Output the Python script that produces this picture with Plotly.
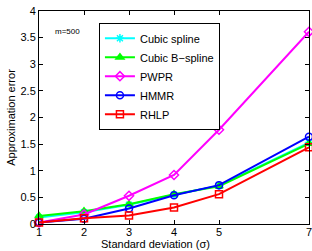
import plotly.graph_objects as go

sigma = [1, 2, 3, 4, 5, 7]
cubic_spline = [0.12, 0.22, 0.36, 0.55, 0.72, 1.53]
cubic_bspline = [0.15, 0.24, 0.37, 0.56, 0.71, 1.51]
pwpr = [0.03, 0.18, 0.53, 0.92, 1.77, 3.61]
hmmr = [0.03, 0.10, 0.29, 0.54, 0.73, 1.64]
rhlp = [0.03, 0.11, 0.16, 0.31, 0.56, 1.44]

series = [
    ("Cubic spline", cubic_spline, "#00FFFF", "asterisk-open"),
    ("Cubic B\u2212spline", cubic_bspline, "#00FF00", "triangle-up"),
    ("PWPR", pwpr, "#FF00FF", "diamond-open"),
    ("HMMR", hmmr, "#0000FF", "circle-open"),
    ("RHLP", rhlp, "#FF0000", "square-open"),
]

fig = go.Figure()
for name, vals, col, sym in series:
    fig.add_trace(go.Scatter(
        x=sigma, y=vals, name=name, mode="lines+markers",
        line=dict(color=col, width=2),
        marker=dict(symbol=sym, size=7, color=col, line=dict(color=col, width=1.5)),
        cliponaxis=False,
    ))

font = dict(family="Liberation Sans, Arial, sans-serif", size=11, color="black")
fig.update_layout(
    width=312, height=251,
    margin=dict(l=39, r=3, t=11, b=27),
    paper_bgcolor="white", plot_bgcolor="white",
    font=font,
    showlegend=True,
    legend=dict(x=0.222, y=0.945, xanchor="left", yanchor="top",
                bordercolor="black", borderwidth=1, bgcolor="white",
                font=dict(size=11), tracegroupgap=0, itemwidth=30),
    annotations=[
        dict(text="m=500", x=0.05, y=0.905, xref="paper", yref="paper",
             showarrow=False, xanchor="left", yanchor="middle", font=dict(size=8)),
        dict(text="Standard deviation (\u03c3)", x=0.43, y=0, xref="paper", yref="paper",
             yshift=-20, showarrow=False, xanchor="center", yanchor="middle"),
    ],
)
fig.update_xaxes(range=[1, 7], tickvals=[1, 2, 3, 4, 5, 7], showgrid=False, zeroline=False,
                 showline=True, linecolor="black", linewidth=1, mirror="ticks",
                 ticks="inside", ticklen=4, tickcolor="black", automargin=False,
                 ticklabelstandoff=-2, ticklabeloverflow="allow")
fig.update_yaxes(range=[0, 4], dtick=0.5, showgrid=False, zeroline=False,
                 showline=True, linecolor="black", linewidth=1, mirror="ticks",
                 ticks="inside", ticklen=4, tickcolor="black", automargin=False,
                 ticklabeloverflow="allow",
                 title=dict(text="Approximation error", standoff=2, font=dict(size=11)))

fig.write_html("out.html", config={"displayModeBar": False},
               post_script="document.body.style.margin='0';")
